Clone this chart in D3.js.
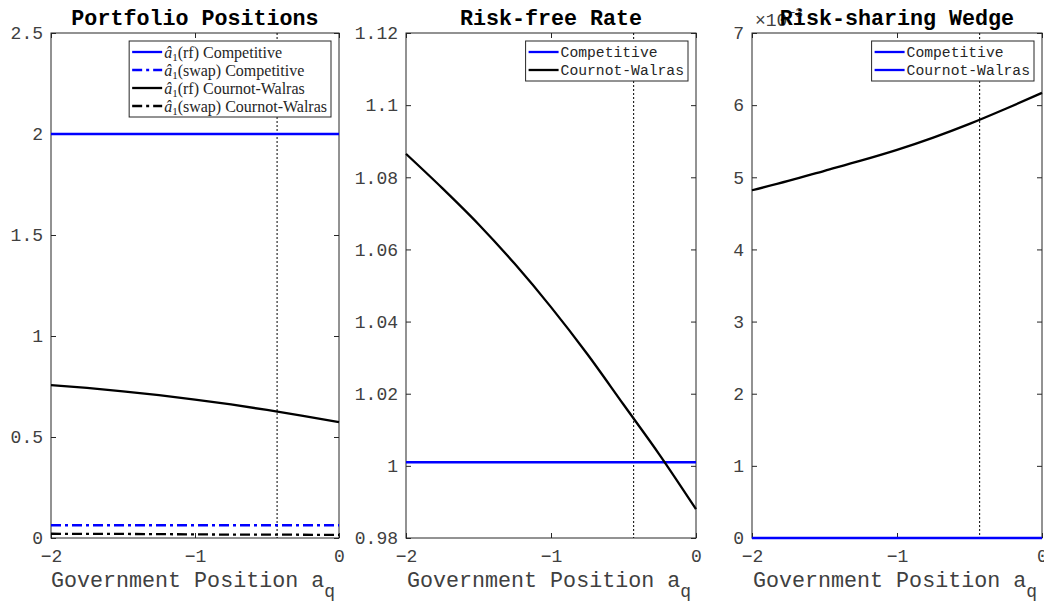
<!DOCTYPE html>
<html>
<head>
<meta charset="utf-8">
<script src="https://cdn.jsdelivr.net/npm/d3@7/dist/d3.min.js"></script>
<style>
    body { margin: 0; background: #fff; }
    svg { display: block; }
    .tick text { font-family: "Liberation Mono", "Courier New", monospace; font-size: 18px; fill: #404040; }
    .tick line { stroke: #262626; }
</style>
</head>
<body>
<div id="chart"></div>
<script>
// --- Data ---
const xGrid = [-2, -1.75, -1.5, -1.25, -1, -0.75, -0.5, -0.25, 0];

// Portfolio positions
const posRfComp   = [2.0, 2.0, 2.0, 2.0, 2.0, 2.0, 2.0, 2.0, 2.0];
const posSwapComp = [0.063, 0.063, 0.063, 0.063, 0.063, 0.063, 0.063, 0.063, 0.063];
const posRfCW     = [0.757, 0.743, 0.726, 0.707, 0.685, 0.661, 0.634, 0.605, 0.574];
const posSwapCW   = [0.021, 0.020, 0.020, 0.019, 0.018, 0.017, 0.017, 0.016, 0.015];

// Risk-free rate
const rateComp = [1.001, 1.001, 1.001, 1.001, 1.001, 1.001, 1.001, 1.001, 1.001];
const rateCW   = [1.0865, 1.077, 1.067, 1.056, 1.044, 1.031, 1.017, 1.003, 0.988];

// Risk-sharing wedge (units of 10^-3)
const wedgeComp = [0, 0, 0, 0, 0, 0, 0, 0, 0];
const wedgeCW   = [4.82, 4.95, 5.09, 5.23, 5.38, 5.55, 5.74, 5.95, 6.17];

const govMarker = -0.43;

const titles = ["Portfolio Positions", "Risk-free Rate", "Risk-sharing Wedge"];
const xTicks = [-2, -1, 0];
const posTicks = [0, 0.5, 1, 1.5, 2, 2.5];
const rateTicks = [0.98, 1, 1.02, 1.04, 1.06, 1.08, 1.1, 1.12];
const wedgeTicks = [0, 1, 2, 3, 4, 5, 6, 7];

// --- Layout ---
const width = 1044, height = 601;
const plotTop = 33, plotBottom = 538;
const panelX = [[51, 339], [406, 696], [752, 1042]];

const BLUE = "#0000ff";
const DASHDOT = "10,4,3,4";
const LW = 2.3;
const mono = '"Liberation Mono", "Courier New", monospace';
const serif = '"Liberation Serif", "Times New Roman", serif';

const fmt = d => d < 0 ? "\u2212" + Math.abs(d) : String(d);

const panels = [
    {
        domain: [0, 2.5], ticks: posTicks,
        series: [
            { values: posRfComp, color: BLUE, dash: null },
            { values: posSwapComp, color: BLUE, dash: DASHDOT },
            { values: posRfCW, color: "#000", dash: null },
            { values: posSwapCW, color: "#000", dash: DASHDOT }
        ],
        legendFont: serif, legendSize: 16,
        legend: [
            { rest: "(rf) Competitive", color: BLUE, dash: null },
            { rest: "(swap) Competitive", color: BLUE, dash: DASHDOT },
            { rest: "(rf) Cournot-Walras", color: "#000", dash: null },
            { rest: "(swap) Cournot-Walras", color: "#000", dash: DASHDOT }
        ],
        hat: true
    },
    {
        domain: [0.98, 1.12], ticks: rateTicks,
        series: [
            { values: rateComp, color: BLUE, dash: null },
            { values: rateCW, color: "#000", dash: null }
        ],
        legendFont: mono, legendSize: 14.7,
        legend: [
            { rest: "Competitive", color: BLUE, dash: null },
            { rest: "Cournot-Walras", color: "#000", dash: null }
        ]
    },
    {
        domain: [0, 7], ticks: wedgeTicks,
        series: [
            { values: wedgeCW, color: "#000", dash: null },
            { values: wedgeComp, color: BLUE, dash: null }
        ],
        legendFont: mono, legendSize: 14.7,
        legend: [
            { rest: "Competitive", color: BLUE, dash: null },
            { rest: "Cournot-Walras", color: BLUE, dash: null }
        ],
        exponent: true
    }
];

const svg = d3.select("#chart").append("svg")
    .attr("width", width)
    .attr("height", height);

panels.forEach((p, i) => {
    const [x0, x1] = panelX[i];
    const x = d3.scaleLinear().domain([-2, 0]).range([x0, x1]);
    const y = d3.scaleLinear().domain(p.domain).range([plotBottom, plotTop]);
    const g = svg.append("g");

    // axes with inward ticks, mirrored on top/right
    const styleAxis = sel => { sel.select(".domain").remove(); };
    g.append("g").attr("transform", `translate(0,${plotBottom})`)
        .call(d3.axisBottom(x).tickValues(xTicks).tickFormat(fmt).tickSizeInner(-5).tickSizeOuter(0).tickPadding(11))
        .call(styleAxis);
    g.append("g").attr("transform", `translate(0,${plotTop})`)
        .call(d3.axisTop(x).tickValues(xTicks).tickFormat("").tickSizeInner(-5).tickSizeOuter(0))
        .call(styleAxis);
    g.append("g").attr("transform", `translate(${x0},0)`)
        .call(d3.axisLeft(y).tickValues(p.ticks).tickFormat(fmt).tickSizeInner(-5).tickSizeOuter(0).tickPadding(8))
        .call(styleAxis);
    g.append("g").attr("transform", `translate(${x1},0)`)
        .call(d3.axisRight(y).tickValues(p.ticks).tickFormat("").tickSizeInner(-5).tickSizeOuter(0))
        .call(styleAxis);
    g.selectAll(".tick text").attr("font-family", null).attr("font-size", null);

    // frame
    g.append("rect")
        .attr("x", x0).attr("y", plotTop)
        .attr("width", x1 - x0).attr("height", plotBottom - plotTop)
        .attr("fill", "none").attr("stroke", "#262626").attr("stroke-width", 1);

    // dotted marker
    g.append("line")
        .attr("x1", x(govMarker)).attr("x2", x(govMarker))
        .attr("y1", plotTop).attr("y2", plotBottom)
        .attr("stroke", "#000").attr("stroke-width", 1)
        .attr("stroke-dasharray", "2,2");

    // series
    const line = d3.line()
        .x((d, k) => x(xGrid[k]))
        .y(d => y(d))
        .curve(d3.curveMonotoneX);
    p.series.forEach(s => {
        g.append("path")
            .attr("d", line(s.values))
            .attr("fill", "none")
            .attr("stroke", s.color)
            .attr("stroke-width", LW)
            .attr("stroke-dasharray", s.dash);
    });

    // x label
    const lab = g.append("text")
        .attr("x", (x0 + x1) / 2 - 2).attr("y", 587)
        .attr("text-anchor", "middle")
        .attr("font-family", mono).attr("font-size", 21.7)
        .attr("fill", "#404040");
    lab.append("tspan").text("Government Position a");
    lab.append("tspan").attr("dy", 10).attr("font-size", 18).text("q");

    // exponent (drawn before title, it sits underneath)
    if (p.exponent) {
        const ex = g.append("text")
            .attr("x", x0 + 3).attr("y", 26)
            .attr("font-family", mono).attr("font-size", 18)
            .attr("fill", "#404040");
        ex.append("tspan").text("\u00d710");
        ex.append("tspan").attr("dy", -9).attr("font-size", 13).text("\u22123");
    }

    // title
    g.append("text")
        .attr("x", (x0 + x1) / 2).attr("y", 25)
        .attr("text-anchor", "middle")
        .attr("font-family", mono).attr("font-size", 21.7)
        .attr("font-weight", "bold").attr("fill", "#000")
        .text(titles[i]);

    // legend
    const rowH = 18;
    const leg = g.append("g");
    const box = leg.append("rect")
        .attr("fill", "#fff").attr("stroke", "#262626").attr("stroke-width", 1);
    let maxW = 0;
    p.legend.forEach((e, k) => {
        const row = leg.append("g").attr("transform", `translate(0,${11 + k * rowH})`);
        row.append("line")
            .attr("x1", 3).attr("x2", 33)
            .attr("stroke", e.color).attr("stroke-width", LW)
            .attr("stroke-dasharray", e.dash);
        const t = row.append("text")
            .attr("x", 35).attr("dy", "0.35em")
            .attr("font-family", p.legendFont).attr("font-size", p.legendSize)
            .attr("fill", "#262626");
        if (p.hat) {
            t.append("tspan").attr("font-style", "italic").text("\u00e2");
            t.append("tspan").attr("dy", 3).attr("font-size", 11).text("1");
            t.append("tspan").attr("dy", -3).text(e.rest);
        } else {
            t.text(e.rest);
        }
        maxW = Math.max(maxW, t.node().getComputedTextLength());
    });
    const boxW = 35 + maxW + 4;
    const boxH = p.legend.length * rowH + 4;
    box.attr("x", 0).attr("y", 0).attr("width", boxW).attr("height", boxH);
    leg.attr("transform", `translate(${x1 - 8 - boxW},${plotTop + 8})`);
});
</script>
</body>
</html>
